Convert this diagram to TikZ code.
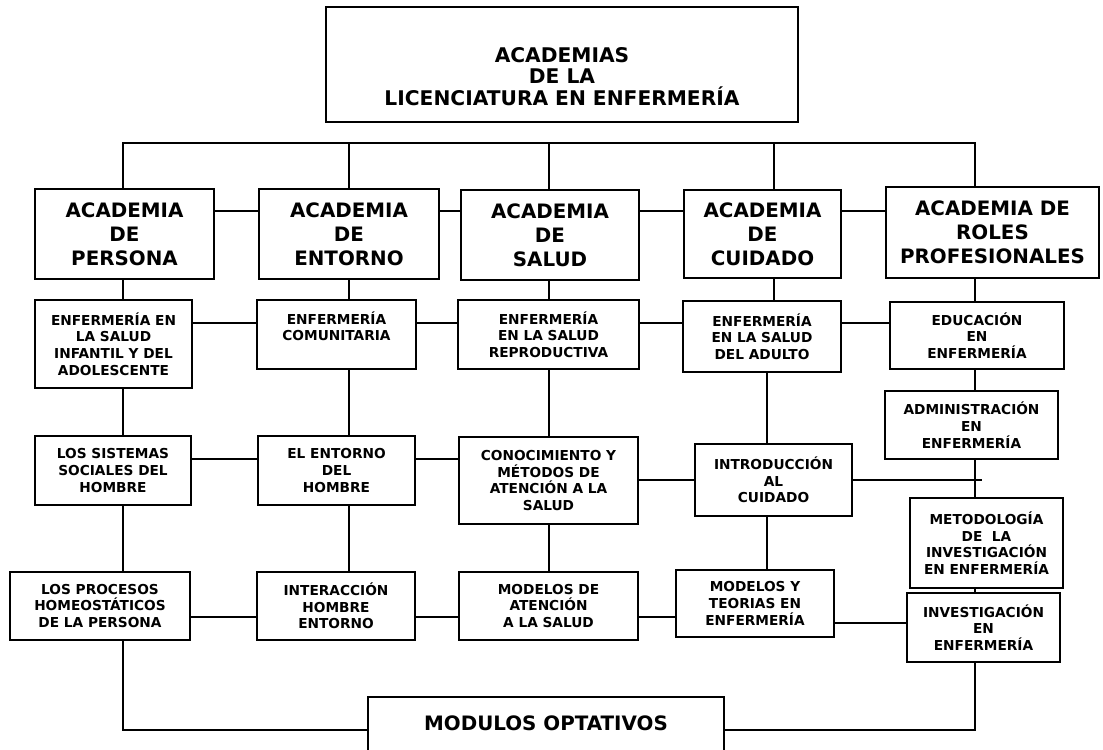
\documentclass[tikz,border=0pt]{standalone}
\usepackage{fontspec}
\setmainfont{DejaVu Sans}
\usetikzlibrary{
		calc,
		positioning
	}
\tikzset{
		>=stealth
	}

\begin{document}
\begin{tikzpicture}[x=0.02cm, y=-0.02cm,
					box/.style={draw, line width=1.3pt, align=center, inner sep=0pt, font=\bfseries\fontsize{7.8}{9.5}\selectfont},
					bigbox/.style={box, font=\bfseries\fontsize{11.3}{13.6}\selectfont},
					wh/.style 2 args={minimum width=#1*0.02cm, minimum height=#2*0.02cm},
					link/.style={line width=1pt}]
	\useasboundingbox (0,0) rectangle (1103,750);
	\clip (0,0) rectangle (1103,750);
	\coordinate (bus) at (0,143);
	\coordinate (c1) at (123,0);
	\coordinate (c2) at (349,0);
	\coordinate (c3) at (549,0);
	\coordinate (c4) at (774,0);
	\coordinate (c4b) at (767,0);
	\coordinate (c5) at (975,0);
	\coordinate (r1) at (0,211);
	\coordinate (r2) at (0,323);
	\coordinate (r3) at (0,459);
	\coordinate (r3b) at (0,480);
	\coordinate (r4) at (0,617);
	\coordinate (r4b) at (0,623);
	\coordinate (bot) at (0,730);
	\coordinate (tick) at (982,480);

	\node[bigbox, wh={472}{115}, font=\bfseries\fontsize{11.5}{12.2}\selectfont] (licenciatura) at (562,64.5) {\rule{0pt}{22pt}ACADEMIAS\\DE LA\\LICENCIATURA EN ENFERMERÍA};

	\node[bigbox, wh={179}{90}] (persona) at (124.5,234) {ACADEMIA\\DE\\PERSONA};
	\node[bigbox, wh={180}{90}] (entorno) at (349,234) {ACADEMIA\\DE\\ENTORNO};
	\node[bigbox, wh={178}{90}] (salud) at (550,235) {ACADEMIA\\DE\\SALUD};
	\node[bigbox, wh={157}{88}] (cuidado) at (762.5,234) {ACADEMIA\\DE\\CUIDADO};
	\node[bigbox, wh={213}{91}] (roles) at (992.5,232.5) {ACADEMIA DE\\ROLES\\PROFESIONALES};

	\node[box, wh={157}{88}] (infantil) at (113.5,344) {ENFERMERÍA EN\\LA SALUD\\INFANTIL Y DEL\\ADOLESCENTE};
	\node[box, wh={159}{69}] (comunitaria) at (336.5,334.5) {ENFERMERÍA\\COMUNITARIA\\\mbox{}};
	\node[box, wh={181}{69}] (reproductiva) at (548.5,334.5) {ENFERMERÍA\\EN LA SALUD\\REPRODUCTIVA};
	\node[box, wh={158}{71}] (adulto) at (762,336.5) {ENFERMERÍA\\EN LA SALUD\\DEL ADULTO};
	\node[box, wh={174}{67}] (educacion) at (977,335.5) {EDUCACIÓN\\EN\\ENFERMERÍA};

	\node[box, wh={156}{69}] (sistemas) at (113,470.5) {LOS SISTEMAS\\SOCIALES DEL\\HOMBRE};
	\node[box, wh={157}{69}] (hombre) at (336.5,470.5) {EL ENTORNO\\DEL\\HOMBRE};
	\node[box, wh={179}{87}] (conocimiento) at (548.5,480.5) {CONOCIMIENTO Y\\MÉTODOS DE\\ATENCIÓN A LA\\SALUD};
	\node[box, wh={157}{72}] (introduccion) at (773.5,480) {INTRODUCCIÓN\\AL\\CUIDADO};
	\node[box, wh={173}{68}] (administracion) at (971.5,425) {ADMINISTRACIÓN\\EN\\ENFERMERÍA};
	\node[box, wh={153}{90}] (metodologia) at (986.5,543) {METODOLOGÍA\\DE\ \ LA\\INVESTIGACIÓN\\EN ENFERMERÍA};
	\node[box, wh={153}{69}] (investigacion) at (983.5,627.5) {INVESTIGACIÓN\\EN\\ENFERMERÍA};

	\node[box, wh={180}{68}] (procesos) at (100,606) {LOS PROCESOS\\HOMEOSTÁTICOS\\DE LA PERSONA};
	\node[box, wh={158}{68}] (interaccion) at (336,606) {INTERACCIÓN\\HOMBRE\\ENTORNO};
	\node[box, wh={179}{68}] (atencion) at (548.5,606) {MODELOS DE\\ATENCIÓN\\A LA SALUD};
	\node[box, wh={158}{67}] (teorias) at (755,603.5) {MODELOS Y\\TEORIAS EN\\ENFERMERÍA};

	\node[bigbox, anchor=north, minimum width=7.12cm, inner ysep=0.37cm, text depth=1cm] (modulos) at (546,696) {MODULOS OPTATIVOS};

	\draw[link] (c1 |- persona.north) -- (c1 |- bus) -- (c5 |- bus) -- (c5 |- roles.north);
	\foreach \c/\n in {c2/entorno, c3/salud, c4/cuidado}
		\draw[link] (\c |- bus) -- (\c |- \n.north);
	\foreach \a/\b in {persona/entorno, entorno/salud, salud/cuidado, cuidado/roles}
		\draw[link] (\a.east |- r1) -- (\b.west |- r1);
	\foreach \c/\a/\b in {c1/persona/infantil, c2/entorno/comunitaria, c3/salud/reproductiva, c4/cuidado/adulto, c5/roles/educacion}
		\draw[link] (\c |- \a.south) -- (\c |- \b.north);

	\foreach \a/\b in {infantil/comunitaria, comunitaria/reproductiva, reproductiva/adulto, adulto/educacion}
		\draw[link] (\a.east |- r2) -- (\b.west |- r2);
	\foreach \c/\a/\b in {c1/infantil/sistemas, c2/comunitaria/hombre, c3/reproductiva/conocimiento, c4b/adulto/introduccion, c5/educacion/administracion}
		\draw[link] (\c |- \a.south) -- (\c |- \b.north);

	\draw[link] (sistemas.east |- r3) -- (hombre.west |- r3);
	\draw[link] (hombre.east |- r3) -- (conocimiento.west |- r3);
	\draw[link] (conocimiento.east |- r3b) -- (introduccion.west |- r3b);
	\draw[link] (introduccion.east |- r3b) -- (tick);
	\draw[link] (c5 |- administracion.south) -- (c5 |- metodologia.north);
	\draw[link] (c5 |- metodologia.south) -- (c5 |- investigacion.north);
	\foreach \c/\a/\b in {c1/sistemas/procesos, c2/hombre/interaccion, c3/conocimiento/atencion, c4b/introduccion/teorias}
		\draw[link] (\c |- \a.south) -- (\c |- \b.north);

	\foreach \a/\b in {procesos/interaccion, interaccion/atencion, atencion/teorias}
		\draw[link] (\a.east |- r4) -- (\b.west |- r4);
	\draw[link] (teorias.east |- r4b) -- (investigacion.west |- r4b);

	\draw[link] (c1 |- procesos.south) |- (modulos.west |- bot);
	\draw[link] (c5 |- investigacion.south) |- (modulos.east |- bot);
\end{tikzpicture}
\end{document}
